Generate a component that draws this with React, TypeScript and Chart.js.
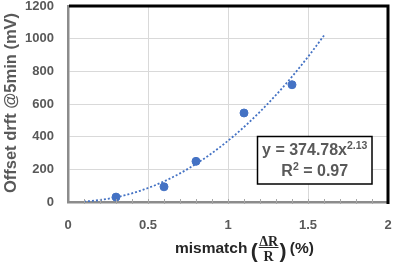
import React, { useEffect, useRef } from 'react';
import { Chart, registerables } from 'chart.js';

Chart.register(...registerables);

// ---- data ----
const MISMATCH_PCT = [0.3, 0.6, 0.8, 1.1, 1.4];
const OFFSET_DRIFT_MV = [30, 93, 249, 545, 718];
const X_MIN = 0;
const X_MAX = 2;
const X_STEP = 0.5;
const X_MINOR_STEP = 0.1;
const Y_MIN = 0;
const Y_MAX = 1200;
const Y_STEP = 200;
// power trendline shown in the chart: y = a * x^b
const FIT_A = 374.78;
const FIT_B = 2.13;
const FIT_R2 = '0.97';
const FIT_X_START = 0.1;
const FIT_X_END = 1.6;
const FIT_SAMPLES = 60;

const Y_TITLE = 'Offset drft @5min (mV)';
const X_TITLE_PRE = 'mismatch ';
const X_TITLE_NUM = 'ΔR';
const X_TITLE_DEN = 'R';
const X_TITLE_POST = ' (%)';
const EQ_MAIN = 'y = ' + FIT_A.toFixed(2) + 'x';
const EQ_EXP = String(FIT_B);

const BLUE = '#4472C4';
const GRAY_TEXT = '#595959';
const FONT = "'Liberation Sans', Arial, sans-serif";
const SERIF = "'Liberation Serif', 'Times New Roman', serif";

function trendPoints() {
  const pts: { x: number; y: number }[] = [];
  for (let i = 0; i <= FIT_SAMPLES; i++) {
    const x = FIT_X_START + ((FIT_X_END - FIT_X_START) * i) / FIT_SAMPLES;
    pts.push({ x, y: FIT_A * Math.pow(x, FIT_B) });
  }
  return pts;
}

const decorPlugin = {
  id: 'decor',
  afterDraw(chart: any) {
    const { ctx, chartArea: a, scales } = chart;
    const xs = scales.x;
    ctx.save();

    // minor ticks on x axis
    ctx.strokeStyle = '#a6a6a6';
    ctx.lineWidth = 1;
    const n = Math.round((X_MAX - X_MIN) / X_MINOR_STEP);
    for (let i = 1; i < n; i++) {
      const px = Math.round(xs.getPixelForValue(X_MIN + i * X_MINOR_STEP)) + 0.5;
      ctx.beginPath();
      ctx.moveTo(px, a.bottom - 3);
      ctx.lineTo(px, a.bottom + 2);
      ctx.stroke();
    }

    // thick black frame top/right
    ctx.strokeStyle = '#000';
    ctx.lineWidth = 3;
    ctx.beginPath();
    ctx.moveTo(a.left + 1, a.top);
    ctx.lineTo(a.right, a.top);
    ctx.lineTo(a.right, a.bottom + 2);
    ctx.stroke();

    // y title
    ctx.save();
    ctx.translate(11, 103);
    ctx.rotate(-Math.PI / 2);
    ctx.font = `bold 16.5px ${FONT}`;
    ctx.fillStyle = GRAY_TEXT;
    ctx.textAlign = 'center';
    ctx.textBaseline = 'middle';
    ctx.fillText(Y_TITLE, 0, 0);
    ctx.restore();

    // x title with fraction
    const tc = '#262626';
    let cx = 175;
    const base = 253;
    ctx.fillStyle = tc;
    ctx.textBaseline = 'alphabetic';
    ctx.textAlign = 'left';
    ctx.font = `bold 15.5px ${FONT}`;
    ctx.fillText(X_TITLE_PRE, cx, base);
    cx += ctx.measureText(X_TITLE_PRE).width - 1;
    ctx.font = `bold 21px ${FONT}`;
    ctx.fillText('(', cx, base + 5);
    cx += ctx.measureText('(').width + 1;
    ctx.font = `bold 14px ${SERIF}`;
    const fw = Math.max(ctx.measureText(X_TITLE_NUM).width, ctx.measureText(X_TITLE_DEN).width) + 1;
    ctx.textAlign = 'center';
    ctx.fillText(X_TITLE_NUM, cx + fw / 2, base - 7.5);
    ctx.fillText(X_TITLE_DEN, cx + fw / 2, base + 7.5);
    ctx.strokeStyle = tc;
    ctx.lineWidth = 1;
    ctx.beginPath();
    ctx.moveTo(cx, base - 5.5);
    ctx.lineTo(cx + fw, base - 5.5);
    ctx.stroke();
    cx += fw + 1;
    ctx.textAlign = 'left';
    ctx.font = `bold 21px ${FONT}`;
    ctx.fillText(')', cx, base + 5);
    cx += ctx.measureText(')').width - 1;
    ctx.font = `bold 15.5px ${FONT}`;
    ctx.fillText(X_TITLE_POST, cx, base);

    // equation box
    const bx = 257.5, by = 136.5, bw = 114.5, bh = 47.5;
    ctx.fillStyle = '#fff';
    ctx.fillRect(bx, by, bw, bh);
    ctx.strokeStyle = '#000';
    ctx.lineWidth = 1.5;
    ctx.strokeRect(bx, by, bw, bh);
    const mid = bx + bw / 2;
    ctx.fillStyle = GRAY_TEXT;
    ctx.textAlign = 'left';
    ctx.font = `bold 16px ${FONT}`;
    const w1 = ctx.measureText(EQ_MAIN).width;
    ctx.font = `bold 10.5px ${FONT}`;
    const w2 = ctx.measureText(EQ_EXP).width;
    let sx = mid - (w1 + w2) / 2;
    ctx.font = `bold 16px ${FONT}`;
    ctx.fillText(EQ_MAIN, sx, 155);
    ctx.font = `bold 10.5px ${FONT}`;
    ctx.fillText(EQ_EXP, sx + w1, 149);

    ctx.font = `bold 16px ${FONT}`;
    const r1 = ctx.measureText('R').width;
    const r3txt = ' = ' + FIT_R2;
    const r3 = ctx.measureText(r3txt).width;
    ctx.font = `bold 10.5px ${FONT}`;
    const r2 = ctx.measureText('2').width;
    sx = mid - (r1 + r2 + r3) / 2;
    ctx.font = `bold 16px ${FONT}`;
    ctx.fillText('R', sx, 176);
    ctx.font = `bold 10.5px ${FONT}`;
    ctx.fillText('2', sx + r1, 170);
    ctx.font = `bold 16px ${FONT}`;
    ctx.fillText(r3txt, sx + r1 + r2, 176);

    ctx.restore();
  },
};

function zeroPad(s: any) {
  s.paddingTop = 0;
  s.paddingBottom = 0;
  s.paddingLeft = 0;
  s.paddingRight = 0;
}

export default function App() {
  const ref = useRef<HTMLCanvasElement | null>(null);
  useEffect(() => {
    document.body.style.margin = '0';
    const canvas = ref.current!;
    const tickFont = { family: FONT, size: 13, weight: 'bold' as const };
    const chart = new Chart(canvas, {
      type: 'scatter',
      data: {
        datasets: [
          {
            label: 'data',
            data: MISMATCH_PCT.map((x, i) => ({ x, y: OFFSET_DRIFT_MV[i] })),
            backgroundColor: BLUE,
            borderColor: BLUE,
            pointRadius: 4,
            pointHoverRadius: 4,
          },
          {
            label: 'trend',
            data: trendPoints(),
            showLine: true,
            borderColor: BLUE,
            borderWidth: 1.8,
            borderDash: [2, 2],
            pointRadius: 0,
            fill: false,
          } as any,
        ],
      },
      options: {
        responsive: false,
        animation: false,
        layout: { padding: { top: 6, right: 7, left: 0, bottom: 0 } },
        plugins: { legend: { display: false }, tooltip: { enabled: false } },
        scales: {
          x: {
            type: 'linear',
            min: X_MIN,
            max: X_MAX,
            afterFit: (s: any) => { s.height = 63; zeroPad(s); },
            ticks: {
              stepSize: X_STEP,
              font: tickFont,
              color: GRAY_TEXT,
              padding: 16,
              maxRotation: 0,
              callback: (v: any) => String(v),
            },
            grid: { color: '#d9d9d9', lineWidth: 1, drawTicks: false },
            border: { display: true, color: '#8c8c8c', width: 2.5 },
          },
          y: {
            type: 'linear',
            min: Y_MIN,
            max: Y_MAX,
            afterFit: (s: any) => { s.width = 68; zeroPad(s); },
            ticks: {
              stepSize: Y_STEP,
              font: tickFont,
              color: GRAY_TEXT,
              padding: 14,
              callback: (v: any) => String(v),
            },
            grid: { color: '#d9d9d9', lineWidth: 1, drawTicks: false },
            border: { display: true, color: '#8c8c8c', width: 2.5 },
          },
        },
      },
      plugins: [decorPlugin],
    });
    return () => chart.destroy();
  }, []);
  return (
    <div style={{ position: 'fixed', left: 0, top: 0, width: 395, height: 265, background: '#fff' }}>
      <canvas ref={ref} width={395} height={265} style={{ display: 'block', width: 395, height: 265 }} />
    </div>
  );
}
